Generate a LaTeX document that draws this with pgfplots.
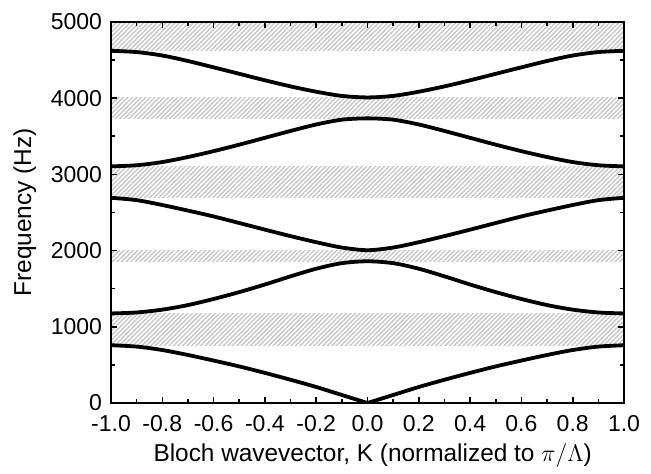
\documentclass[border=0pt]{standalone}
\usepackage{fontspec}
\setmainfont{Liberation Sans}
\usepackage{pgfplots}
\pgfplotsset{compat=1.18}
\usepackage{pgfplotstable}
\usetikzlibrary{patterns.meta}

% band frequencies (Hz) vs normalized Bloch wavevector
\pgfplotstableread{
K     b1    b2    b3    b4    b5
-1.0  758  1175  2693  3105  4622
-0.9  740  1188  2662  3120  4605
-0.8  695  1225  2598  3162  4560
-0.7  630  1285  2525  3228  4488
-0.6  557  1365  2448  3305  4405
-0.5  480  1455  2362  3390  4320
-0.4  395  1555  2275  3480  4235
-0.3  305  1662  2190  3570  4155
-0.2  210  1762  2110  3655  4085
-0.1  105  1835  2040  3718  4030
 0.0    0  1860  2005  3735  4010
 0.1  105  1835  2040  3718  4030
 0.2  210  1762  2110  3655  4085
 0.3  305  1662  2190  3570  4155
 0.4  395  1555  2275  3480  4235
 0.5  480  1455  2362  3390  4320
 0.6  557  1365  2448  3305  4405
 0.7  630  1285  2525  3228  4488
 0.8  695  1225  2598  3162  4560
 0.9  740  1188  2662  3120  4605
 1.0  758  1175  2693  3105  4622
}\bands

\tikzset{gap/.style={draw=none,
  pattern={Lines[angle=45,distance=1.6pt,line width=0.7pt]},
  pattern color=black!22}}

\begin{document}
\begin{tikzpicture}
\begin{axis}[at={(0,0)}, anchor=south west,
  scale only axis, width=256.5pt, height=190.5pt,
  xmin=-1, xmax=1, ymin=0, ymax=5000,
  xtick={-1,-0.8,-0.6,-0.4,-0.2,0,0.2,0.4,0.6,0.8,1},
  ytick={0,1000,2000,3000,4000,5000},
  minor x tick num=1, minor y tick num=1,
  tick align=inside,
  major tick length=3pt, minor tick length=2pt,
  every tick/.style={black, line width=0.8pt},
  axis line style={line width=1pt},
  axis on top,
  /pgf/number format/assume math mode=true,
  x tick label style={/pgf/number format/.cd, fixed, fixed zerofill, precision=1, /tikz/.cd, yshift=-2.5pt},
  y tick label style={/pgf/number format/1000 sep={}, xshift=-1pt},
  tick label style={font=\fontsize{11.5}{13}\selectfont},
  label style={font=\fontsize{12.2}{14}\selectfont},
  xlabel={Bloch wavevector, K (normalized to $\pi/\Lambda$)},
  ylabel={Frequency (Hz)},
  xlabel style={at={(axis description cs:0.51,-0.1365)}, anchor=center},
  ylabel style={at={(axis description cs:-0.168,0.5)}, anchor=center, rotate=0},
]
% band gaps
\addplot[gap] coordinates {(-1,758) (1,758) (1,1172) (-1,1172) (-1,758)};
\addplot[gap] coordinates {(-1,1862) (1,1862) (1,2003) (-1,2003) (-1,1862)};
\addplot[gap] coordinates {(-1,2695) (1,2695) (1,3103) (-1,3103) (-1,2695)};
\addplot[gap] coordinates {(-1,3735) (1,3735) (1,4008) (-1,4008) (-1,3735)};
\addplot[gap] coordinates {(-1,4622) (1,4622) (1,5000) (-1,5000) (-1,4622)};
% bands
\addplot[black, line width=1.9pt, smooth, restrict x to domain=-1:0] table[x=K,y=b1] {\bands};
\addplot[black, line width=1.9pt, smooth, restrict x to domain=0:1] table[x=K,y=b1] {\bands};
\addplot[black, line width=1.9pt, smooth] table[x=K,y=b2] {\bands};
\addplot[black, line width=1.9pt, smooth] table[x=K,y=b3] {\bands};
\addplot[black, line width=1.9pt, smooth] table[x=K,y=b4] {\bands};
\addplot[black, line width=1.9pt, smooth] table[x=K,y=b5] {\bands};
\end{axis}
\path (-55.5pt,-35.5pt) rectangle (270pt,201.5pt);
\end{tikzpicture}
\end{document}
